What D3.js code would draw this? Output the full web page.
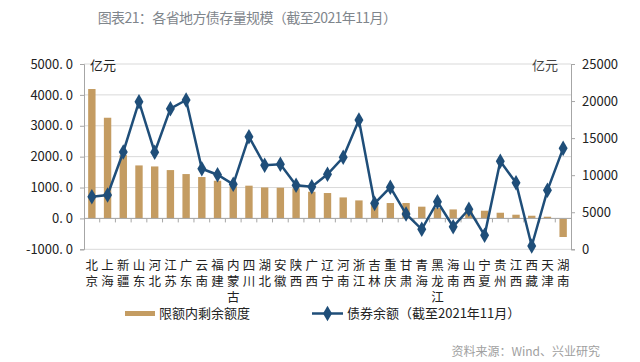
<!DOCTYPE html>
<html><head><meta charset="utf-8">
<script src="https://cdn.jsdelivr.net/npm/d3@7/dist/d3.min.js"></script>
<style>
body{margin:0;background:#fff;}
text{font-family:"Noto Sans CJK SC","Noto Sans",sans-serif;}
</style></head>
<body><svg id="c" width="640" height="362"></svg>
<script>
const categories = ["北京","上海","新疆","山东","河北","江苏","广东","云南","福建","内蒙古","四川","湖北","安徽","陕西","广西","辽宁","河南","浙江","吉林","重庆","甘肃","青海","黑龙江","海南","山西","宁夏","贵州","江西","西藏","天津","湖南"];
const remainingQuota = [4190,3260,2050,1716,1683,1565,1436,1340,1220,1040,1060,1003,995,975,864,822,680,583,500,498,498,380,336,291,240,249,184,120,87,55,-602];
const bondBalance = [7100,7320,13130,19910,13100,18970,20140,10870,10060,8770,15190,11330,11470,8630,8450,10120,12410,17440,6200,8360,4760,2700,6420,3050,5400,1890,11870,8980,450,7960,13620];
const leftTicks = [5000,4000,3000,2000,1000,0,-1000];
const rightTicks = [25000,20000,15000,10000,5000,0];
const title = "图表21：各省地方债存量规模（截至2021年11月）";
const legendBar = "限额内剩余额度";
const legendLine = "债券余额（截至2021年11月）";
const source = "资料来源：Wind、兴业研究";

const svg = d3.select("#c");
const L = 84, R = 571, T = 64, B = 249.3;
const x = d3.scaleBand().domain(categories).range([L, R]).paddingInner(0.53).paddingOuter(0.265);
const xb = d3.scaleBand().domain(categories).range([L, R]);
const yL = d3.scaleLinear().domain([-1000, 5000]).range([B, T]);
const yR = d3.scaleLinear().domain([0, 25000]).range([B, T]);

// title
svg.append("text").attr("x", 247).attr("y", 23).attr("text-anchor", "middle")
  .attr("font-size", 14).attr("letter-spacing", -0.6).attr("fill", "#7f868c").text(title);

// gridlines
svg.append("g").selectAll("line").data(leftTicks).join("line")
  .attr("x1", L).attr("x2", R).attr("y1", d => yL(d)).attr("y2", d => yL(d))
  .attr("stroke", "#d9d9d9").attr("stroke-width", 1);

// bars
svg.append("g").selectAll("rect").data(remainingQuota).join("rect")
  .attr("x", (d, i) => x(categories[i]))
  .attr("width", x.bandwidth())
  .attr("y", d => yL(Math.max(0, d)))
  .attr("height", d => Math.abs(yL(d) - yL(0)))
  .attr("fill", "#c49c62");

// left axis
const gl = svg.append("g").attr("transform", `translate(${L},0)`)
  .call(d3.axisLeft(yL).tickValues(leftTicks).tickSize(4).tickFormat(d => d3.format(".1f")(d).replace(".", ". ").replace("−", "-")));
gl.select(".domain").attr("stroke", "#a6a6a6");
gl.selectAll(".tick line").attr("stroke", "#a6a6a6");
gl.selectAll("text").attr("font-size", 13).attr("fill", "#222").attr("dx", -4).attr("font-family", "Liberation Sans, Arial, sans-serif");

// right axis
const gr = svg.append("g").attr("transform", `translate(${R},0)`)
  .call(d3.axisRight(yR).tickValues(rightTicks).tickSize(4).tickFormat(d3.format("d")));
gr.select(".domain").attr("stroke", "#a6a6a6");
gr.selectAll(".tick line").attr("stroke", "#a6a6a6");
gr.selectAll("text").attr("font-size", 13).attr("fill", "#222").attr("dx", 4).attr("font-family", "Liberation Sans, Arial, sans-serif");

// zero axis with ticks at band boundaries
svg.append("line").attr("x1", L).attr("x2", R).attr("y1", yL(0)).attr("y2", yL(0)).attr("stroke", "#a6a6a6");
svg.append("g").selectAll("line").data(categories.slice(1)).join("line")
  .attr("x1", d => xb(d)).attr("x2", d => xb(d))
  .attr("y1", yL(0)).attr("y2", yL(0) + 4).attr("stroke", "#a6a6a6");

// x labels (vertical stacked, one text per category)
svg.append("g").selectAll("text").data(categories).join("text")
  .attr("text-anchor", "middle").attr("font-size", 12.5).attr("fill", "#222")
  .each(function(c) {
    const cx = xb(c) + xb.bandwidth() / 2;
    const t = d3.select(this);
    [...c].forEach((ch, j) => {
      t.append("tspan").attr("x", cx).attr("y", 269.5 + j * 16.3).text(ch);
    });
  });

// line
const line = d3.line().x((d, i) => xb(categories[i]) + xb.bandwidth() / 2).y(d => yR(d));
svg.append("path").datum(bondBalance).attr("d", line).attr("fill", "none")
  .attr("stroke", "#1f4e79").attr("stroke-width", 2.5);
const sym = d3.symbol().type(d3.symbolDiamond).size(70);
svg.append("g").selectAll("path").data(bondBalance).join("path")
  .attr("transform", (d, i) => `translate(${xb(categories[i]) + xb.bandwidth() / 2},${yR(d)})`)
  .attr("d", sym).attr("fill", "#1f4e79");

// unit labels
svg.append("text").attr("x", 90).attr("y", 70).attr("font-size", 13).attr("fill", "#222").text("亿元");
svg.append("text").attr("x", 532).attr("y", 70).attr("font-size", 13).attr("fill", "#444").text("亿元");

// legend
svg.append("rect").attr("x", 125).attr("y", 311).attr("width", 30).attr("height", 5).attr("fill", "#c49c62");
svg.append("text").attr("x", 159).attr("y", 318).attr("font-size", 13).attr("fill", "#222").text(legendBar);
svg.append("line").attr("x1", 312).attr("x2", 343).attr("y1", 313.5).attr("y2", 313.5).attr("stroke", "#1f4e79").attr("stroke-width", 2.5);
svg.append("path").attr("transform", "translate(327.5,313.5)").attr("d", sym).attr("fill", "#1f4e79");
svg.append("text").attr("x", 347).attr("y", 318).attr("font-size", 13).attr("fill", "#222").text(legendLine);

// source
svg.append("text").attr("x", 600).attr("y", 356).attr("text-anchor", "end")
  .attr("font-size", 12).attr("fill", "#a0a0a0").text(source);
</script></body></html>
